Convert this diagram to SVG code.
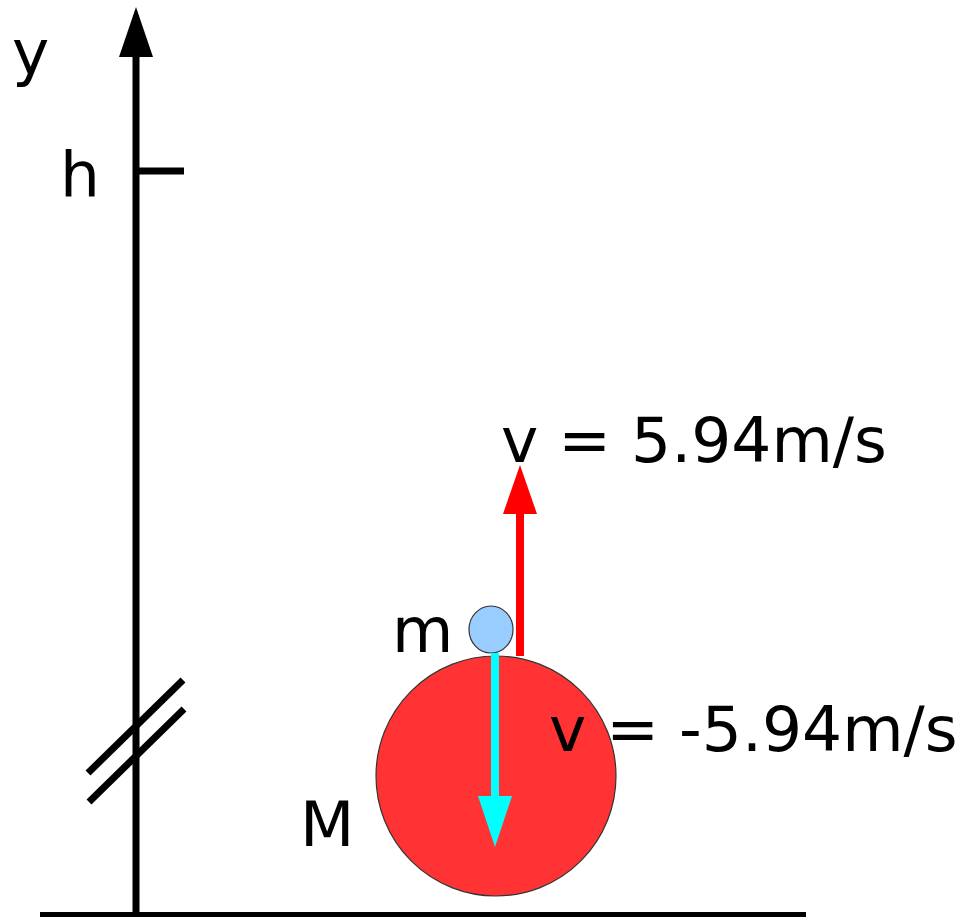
<svg xmlns="http://www.w3.org/2000/svg" width="963" height="918" viewBox="0 0 963 918">
<style>
text{font-family:"DejaVu Sans","Liberation Sans",sans-serif;font-size:63px;fill:#000}
.k{stroke:#000;stroke-width:7;fill:none}
</style>
<rect width="963" height="918" fill="#fff"/>
<g id="axis">
<line class="k" x1="136" y1="916" x2="136" y2="50"/>
<polygon points="136,7 119,57 153,57" fill="#000"/>
<line class="k" x1="136" y1="171" x2="184" y2="171"/>
<line class="k" x1="88" y1="773" x2="183" y2="680"/>
<line class="k" x1="89" y1="802" x2="184" y2="709"/>
<text x="12" y="74">y</text>
<text x="60" y="196">h</text>
</g>
<g id="ground"><line x1="40" y1="914.5" x2="806" y2="914.5" stroke="#000" stroke-width="5"/></g>
<g id="bigM">
<circle cx="496" cy="776" r="120" fill="#ff3333" stroke="#333" stroke-width="1.2"/>
<text x="300" y="846">M</text>
</g>
<g id="smallm">
<ellipse cx="491" cy="629.5" rx="22" ry="23.5" fill="#99ccff" stroke="#333" stroke-width="1.2"/>
<text x="392" y="652">m</text>
</g>
<g id="connectors">
<line x1="520" y1="656" x2="520" y2="510" stroke="#ff0000" stroke-width="8"/>
<polygon points="520,465 503,514 537,514" fill="#ff0000"/>
<line x1="495" y1="653" x2="495" y2="800" stroke="#00ffff" stroke-width="8"/>
<polygon points="495,847 478,796 512,796" fill="#00ffff"/>
</g>
<g id="labels">
<text x="501" y="462">v = 5.94m/s</text>
<text x="549" y="751">v = -5.94m/s</text>
</g>
</svg>
